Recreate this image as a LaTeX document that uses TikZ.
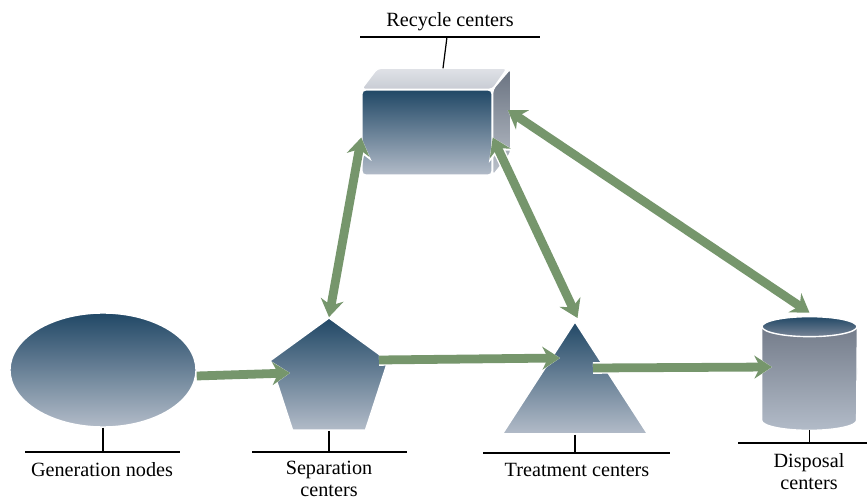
\documentclass[tikz,border=0pt]{standalone}
\usepackage{fontspec}
\setmainfont{Liberation Serif}
\definecolor{navytop}{RGB}{33,72,102}
\definecolor{steelbot}{RGB}{178,187,200}
\definecolor{flowgreen}{RGB}{118,150,108}
\definecolor{lidgray}{RGB}{224,226,231}
\definecolor{lidlow}{RGB}{200,204,212}
\definecolor{sidetop}{RGB}{105,114,128}
\definecolor{sidebot}{RGB}{188,194,203}
\definecolor{drumtop}{RGB}{110,118,132}
\definecolor{capbot}{RGB}{120,132,150}
\usetikzlibrary{calc, positioning, arrows.meta, shapes.geometric}

\begin{document}
\begin{tikzpicture}[
  shapebox/.style={top color=navytop, bottom color=steelbot, draw=white,
    line width=0.8pt, inner sep=0pt},
  flow/.style={-{Stealth[length=10pt, width=13pt]}, line width=5pt, flowgreen,
    preaction={draw=white, line width=6.6pt, -{Stealth[length=12pt, width=16pt]}}},
  biflow/.style={{Stealth[length=10pt, width=13pt]}-{Stealth[length=10pt, width=13pt]},
    line width=5pt, flowgreen,
    preaction={draw=white, line width=6.6pt,
      {Stealth[length=12pt, width=16pt]}-{Stealth[length=12pt, width=16pt]}}},
  tag/.style={font=\fontsize{11.5}{12.5}\selectfont, align=center, inner sep=0pt},
  tagline/.style={line width=0.7pt},
]
  \useasboundingbox (0,0) rectangle (17.34,9.98);

  \node[shapebox, ellipse, minimum width=3.72cm, minimum height=2.28cm] (gen) at (2.06,2.58) {};
  \node[shapebox, regular polygon, regular polygon sides=5, minimum size=2.48cm] (sep) at (6.58,2.38) {};
  \node[shapebox, isosceles triangle, isosceles triangle stretches, shape border rotate=90,
    minimum width=2.9cm, minimum height=2.24cm, anchor=apex] (trt) at (11.5,3.58) {};
  \node[inner sep=0pt, minimum width=1.9cm, minimum height=2.26cm] (dsp) at (16.19,2.51) {};
  \draw[white, line width=0.8pt, top color=drumtop, bottom color=steelbot]
    ([yshift=-0.2cm]dsp.north west) -- ([yshift=0.2cm]dsp.south west)
    arc[start angle=180, end angle=360, x radius=0.95cm, y radius=0.2cm]
    -- ([yshift=-0.2cm]dsp.north east)
    arc[start angle=0, end angle=180, x radius=0.95cm, y radius=0.2cm] -- cycle;
  \draw[white, line width=0.8pt, top color=navytop, bottom color=capbot]
    ([yshift=-0.2cm]dsp.north) ellipse[x radius=0.95cm, y radius=0.2cm];
  \node[shapebox, rounded corners=2pt, minimum width=2.6cm, minimum height=1.7cm] (rcy) at (8.54,7.33) {};
  \draw[white, line width=0.8pt, rounded corners=2pt, top color=lidgray, bottom color=lidlow]
    (rcy.north west) -- ++(0.32,0.42) -- ++(2.6,0) -- (rcy.north east) -- cycle;
  \draw[white, line width=0.8pt, rounded corners=2pt, top color=sidetop, bottom color=sidebot]
    (rcy.north east) -- ++(0.36,0.42) -- ++(0,-1.7) -- (rcy.south east) -- cycle;

  \draw[flow] ([yshift=-0.12cm]gen.east) -- ([shift={(-0.78,0.14)}]sep.center);
  \draw[flow] ([shift={(1.0,0.4)}]sep.center) -- ([shift={(-0.3,-0.76)}]trt.apex);
  \draw[flow] ([shift={(0.36,-0.96)}]trt.apex) -- ([shift={(-0.75,0.13)}]dsp.center);
  \draw[biflow] (sep.corner 1) -- ([yshift=-0.1cm]rcy.west);
  \draw[biflow] ([shift={(0.05,0.04)}]trt.apex) -- ([yshift=-0.1cm]rcy.east);
  \draw[biflow] ([shift={(0.3,0.45)}]rcy.east) -- ([yshift=0.08cm]dsp.north);

  \node[tag, anchor=base] (gentag) at (2.04,0.46) {Generation nodes};
  \node[tag, anchor=north] (septag) at (6.58,0.76) {Separation\\centers};
  \node[tag, anchor=base] (trttag) at (11.54,0.46) {Treatment centers};
  \node[tag, anchor=north] (dsptag) at (16.18,0.92) {Disposal\\centers};
  \node[tag, anchor=base] (rcytag) at (9.0,9.45) {Recycle centers};

  \draw[tagline] (0.5,0.94) -- (3.6,0.94);
  \draw[tagline] (gen.south) -- (gen.south |- 0,0.94);
  \draw[tagline] (5.04,0.94) -- (8.14,0.94);
  \draw[tagline] (sep.south) -- (sep.south |- 0,0.94);
  \draw[tagline] (9.66,0.92) -- (13.4,0.92);
  \draw[tagline] (trt.south) -- (trt.south |- 0,0.92);
  \draw[tagline] (14.76,1.12) -- (17.34,1.12);
  \draw[tagline] (dsp.south) -- (dsp.south |- 0,1.12);
  \draw[tagline] (7.2,9.24) -- (10.8,9.24);
  \draw[tagline] (8.94,9.24) -- ([shift={(0.32,0.42)}]rcy.north);
\end{tikzpicture}
\end{document}
